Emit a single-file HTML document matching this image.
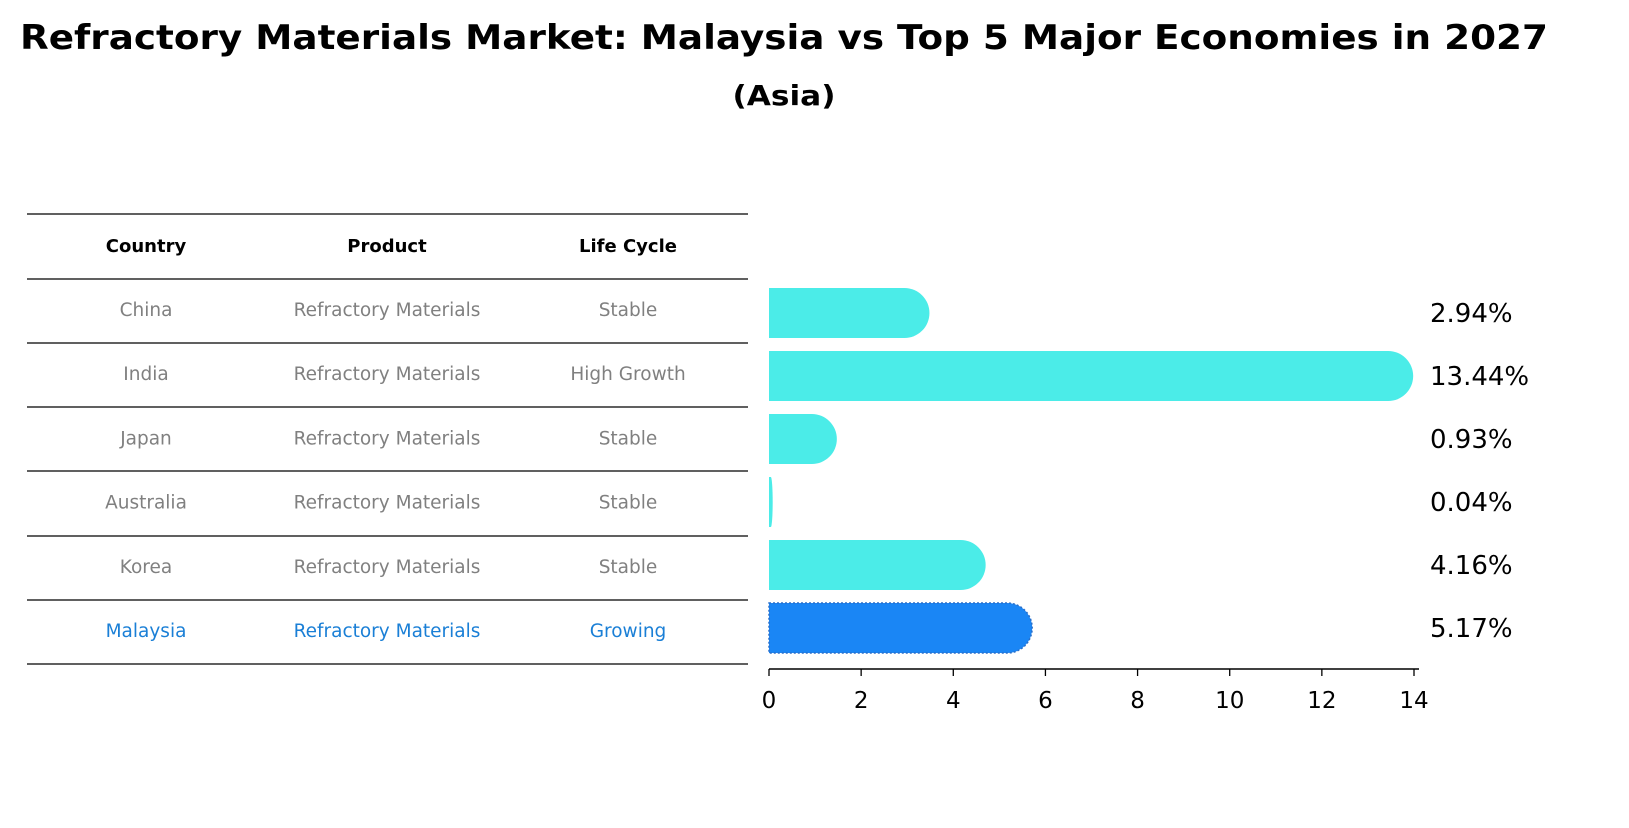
<!DOCTYPE html>
<html><head><meta charset="utf-8"><style>
body{margin:0;background:#fff;}
svg text{font-family:"DejaVu Sans","Liberation Sans",sans-serif;}
</style></head><body>
<svg width="1629" height="823" viewBox="0 0 1629 823" xmlns="http://www.w3.org/2000/svg">
<text x="784" y="49" text-anchor="middle" font-size="34" font-weight="bold" textLength="1528" lengthAdjust="spacingAndGlyphs">Refractory Materials Market: Malaysia vs Top 5 Major Economies in 2027</text>
<text x="784" y="105" text-anchor="middle" font-size="28" font-weight="bold" textLength="103" lengthAdjust="spacingAndGlyphs">(Asia)</text>
<g id="table"></g>
<g id="bars"></g>
</svg>
<script>
const countries=["China","India","Japan","Australia","Korea","Malaysia"];
const products=["Refractory Materials","Refractory Materials","Refractory Materials","Refractory Materials","Refractory Materials","Refractory Materials"];
const lifecycles=["Stable","High Growth","Stable","Stable","Stable","Growing"];
const values=[2.94,13.44,0.93,0.04,4.16,5.17];
const ticks=[0,2,4,6,8,10,12,14];
const NS="http://www.w3.org/2000/svg";
function mk(t,a,p){const e=document.createElementNS(NS,t);for(const k in a)e.setAttribute(k,a[k]);p.appendChild(e);return e;}
const x0=769,sx=(1414-769)/14;
function X(v){return x0+v*sx;}
function Y(i){return 313+i*63;}
const tb=document.getElementById('table');
const lineYs=[214,279,343,407,471,536,600,664];
lineYs.forEach((y,i)=>{const l=mk('line',{x1:27,x2:748,y1:y,y2:y,stroke:'#000','stroke-width':1.2},tb);

});
const cx=[146,387,628];
["Country","Product","Life Cycle"].forEach((h,j)=>{const t=mk('text',{x:cx[j],y:252,'text-anchor':'middle','font-size':18,'font-weight':'bold'},tb);t.textContent=h;

});
countries.forEach((c,i)=>{const y=316+i*64.2;const col=c==="Malaysia"?'#1a7fd6':'#808080';
[c,products[i],lifecycles[i]].forEach((s,j)=>{const t=mk('text',{x:cx[j],y:y,'text-anchor':'middle','font-size':18.5,fill:col},tb);t.textContent=s;

});});
const bg=document.getElementById('bars');
values.forEach((v,i)=>{const h=50,r=25,yc=Y(i),x1=X(v),w=x1-x0;const rr=Math.min(r,w);
const mal=countries[i]==="Malaysia";const col=mal?'#1a86f5':'#4bece8';
const p=mk('path',{d:`M${x0},${yc-h/2} H${x1} A${rr} ${r} 0 0 1 ${x1} ${yc+h/2} H${x0} Z`,fill:col},bg);
if(mal){p.setAttribute('stroke','#2a6fc9');p.setAttribute('stroke-dasharray','2,2');p.setAttribute('stroke-width','1.5');}


const t=mk('text',{x:1430,y:yc+9,'font-size':26},bg);t.textContent=v.toFixed(2)+'%';

});
const ax=mk('line',{x1:x0,x2:1419,y1:669,y2:669,stroke:'#000','stroke-width':1.5},bg);


ticks.forEach(t=>{const l=mk('line',{x1:X(t),x2:X(t),y1:669,y2:676,stroke:'#000','stroke-width':1.3},bg);


const tx=mk('text',{x:X(t),y:708,'text-anchor':'middle','font-size':23},bg);tx.textContent=t;

});
</script>
</body></html>
